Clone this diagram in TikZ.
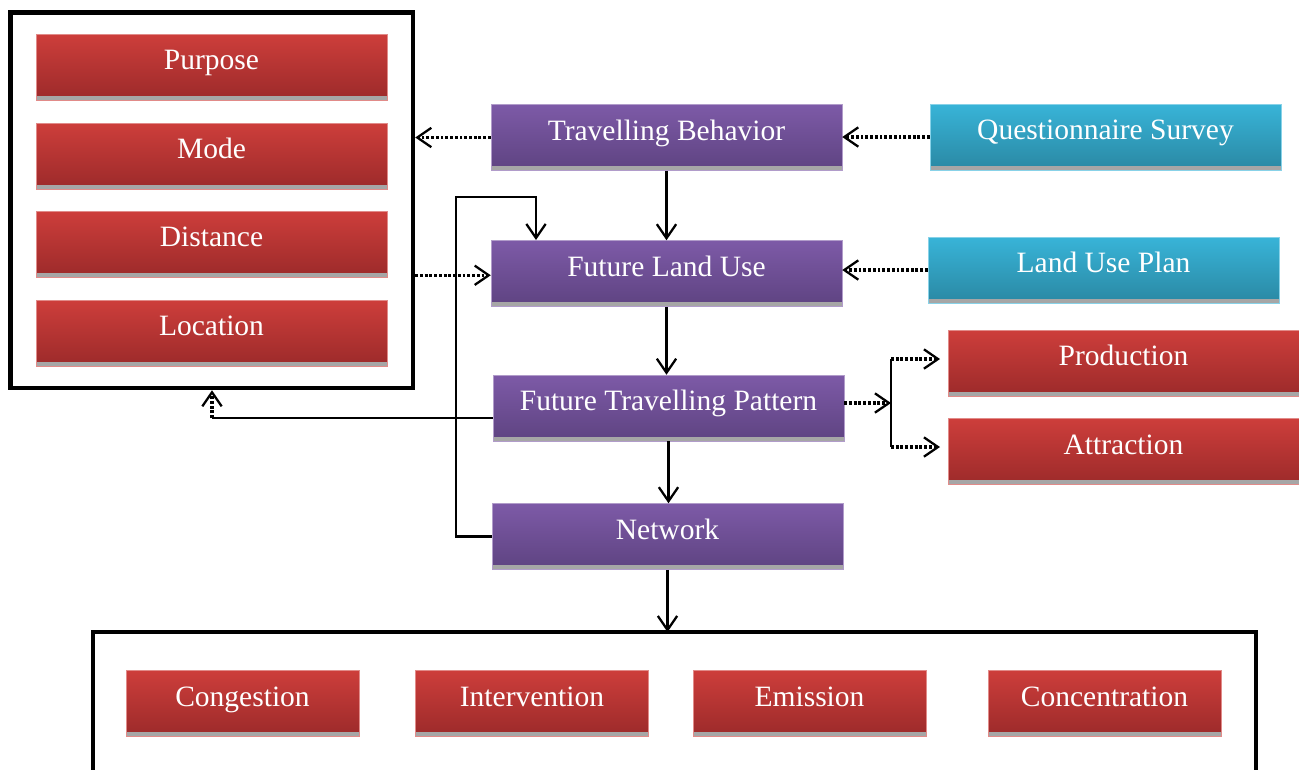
\documentclass[tikz,border=0pt]{standalone}
\usepackage{fontspec}
\setmainfont{Liberation Serif}
\usepackage{xcolor}
\usepackage{tikz}
\usetikzlibrary{positioning,arrows.meta}

\definecolor{redtop}{HTML}{CD3E3B}
\definecolor{redbot}{HTML}{9C2A2A}
\definecolor{purtop}{HTML}{7D5AA7}
\definecolor{purbot}{HTML}{5E4381}
\definecolor{cyatop}{HTML}{38B4D8}
\definecolor{cyabot}{HTML}{2A88A3}
\definecolor{strip}{HTML}{A6A6A6}

\begin{document}
\begin{tikzpicture}[
    x=0.02cm, y=-0.02cm,
    box/.style   ={minimum width=7.02cm, minimum height=1.32cm, inner sep=0pt,
                   text=white, font=\fontsize{16.8}{20}\selectfont,
                   text height=10pt, text depth=6.6pt,
                   path picture={\fill[strip] (path picture bounding box.south west)
                     rectangle ([yshift=2.3pt]path picture bounding box.south east);}},
    redbox/.style={box, top color=redtop, bottom color=redbot, draw=redtop!60!white, line width=0.3pt},
    purbox/.style={box, top color=purtop, bottom color=purbot, draw=purtop!60!white, line width=0.3pt},
    cyabox/.style={box, top color=cyatop, bottom color=cyabot, draw=cyatop!60!white, line width=0.3pt},
    small/.style ={minimum width=4.66cm},
    frame/.style ={draw, line width=2.6pt, inner sep=0pt},
    arr/.style   ={-{Straight Barb[length=8pt, width=11pt, line width=1.3pt]}, line width=1.3pt},
    dots/.style  ={arr, line width=1.8pt, dash pattern=on 1.6pt off 1.1pt}
  ]
    \useasboundingbox (0,0) rectangle (1299,769);

    % --- trip attributes ---
    \node[frame, minimum width=8.05cm, minimum height=7.51cm] (grp) at (211.75,200.25) {};
    \node[redbox] (purp) at (211.5,67)  {Purpose};
    \node[redbox] (mode) at (211.5,156) {Mode};
    \node[redbox] (dist) at (211.5,244) {Distance};
    \node[redbox] (loc)  at (211.5,333) {Location};

    % --- main chain ---
    \node[purbox] (tb)  at (666.5,137.5) {Travelling Behavior};
    \node[purbox] (flu) at (666.5,273.5) {Future Land Use};
    \node[purbox] (ftp) at (668.5,408)   {Future Travelling Pattern};
    \node[purbox] (net) at (667.5,536.5) {Network};

    % --- inputs ---
    \node[cyabox] (qs)  at (1105.5,137) {Questionnaire Survey};
    \node[cyabox] (lup) at (1103.5,270) {Land Use Plan};

    % --- trip ends ---
    \node[redbox] (prod) at (1123.5,363)   {Production};
    \node[redbox] (attr) at (1123.5,451.5) {Attraction};

    % --- impacts ---
    \draw[line width=2.6pt] (93,790) |- (1256,632) -- (1256,790);
    \coordinate (imp) at (668,632);
    \node[redbox, small] (cong) at (242.5,703) {Congestion};
    \node[redbox, small] (intv) at (532,703)   {Intervention};
    \node[redbox, small] (emis) at (809.5,703) {Emission};
    \node[redbox, small] (conc) at (1104.5,703) {Concentration};

    % connectors
    \draw[dots] (tb.west) -- (tb.west -| grp.east);
    \draw[dots] (qs.west) -- (qs.west -| tb.east);
    \draw[dots] ([yshift=-1pt]flu.west -| grp.east) -- ([yshift=-1pt]flu.west);
    \draw[dots] (lup.west) -- (lup.west -| flu.east);
    \draw[arr] (tb.south) -- (flu.north);
    \draw[arr] (flu.south) -- (flu.south |- ftp.north);
    \draw[arr] (ftp.south) -- (ftp.south |- net.north);
    \draw[arr] (net.west) -- (456,536.5) |- (536,197) -- (536,240);
    \coordinate (back) at (212,418);
    \draw[line width=1.3pt] (ftp.west |- back) -- (back);
    \draw[dots] (back) -- (back |- grp.south);
    \draw[arr] (net.south) -- (net.south |- imp);

    % split to production / attraction
    \coordinate (fork) at (891,403);
    \draw[dots] (ftp.east |- fork) -- (fork);
    \draw[line width=1.3pt] (891,359) -- (891,447);
    \draw[dots] (891,359) -- (940,359);
    \draw[dots] (891,447) -- (940,447);
\end{tikzpicture}
\end{document}
